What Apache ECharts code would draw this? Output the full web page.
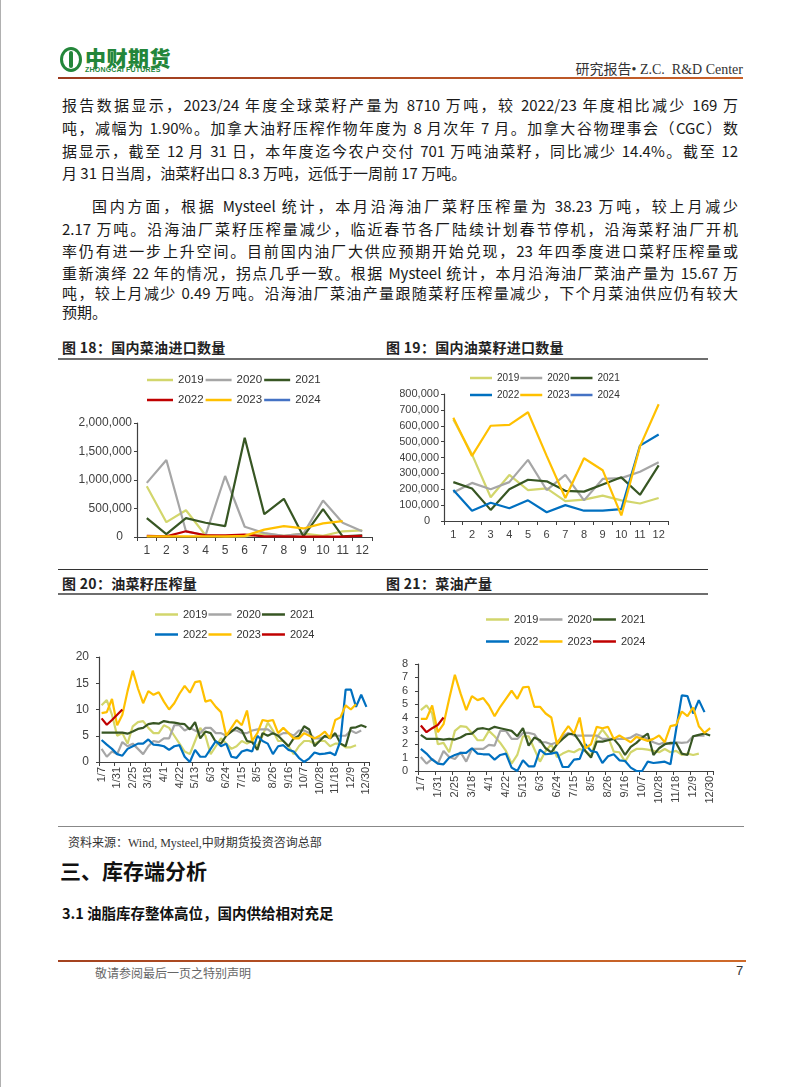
<!DOCTYPE html>
<html lang="zh-CN">
<head>
<meta charset="utf-8">
<script src="https://cdn.jsdelivr.net/npm/echarts@6/dist/echarts.min.js"></script>
<style>
html,body{margin:0;padding:0;background:#fff;}
body{width:802px;height:1087px;position:relative;overflow:hidden;font-family:"Noto Sans CJK SC",sans-serif;color:#222;}
.abs{position:absolute;white-space:nowrap;}
.ln{position:absolute;left:62px;width:676px;font-size:15px;line-height:20px;height:20px;text-align:justify;text-align-last:justify;text-justify:inter-character;font-family:"Liberation Sans Narrow","Noto Sans CJK SC",sans-serif;color:#1a1a1a;}
.ln.nj{text-align-last:left;}
.hr{position:absolute;}
.ctitle{position:absolute;font-size:14px;font-weight:700;color:#222;white-space:nowrap;letter-spacing:0.3px;}
.chart{position:absolute;}
</style>
</head>
<body>
<div class="hr" style="left:0;top:0;width:1px;height:1087px;background:#b0b0b0"></div>

<!-- header -->
<div class="abs" style="left:60px;top:47px;width:16px;height:19px;border:3px solid #23863a;border-radius:50%;"></div>
<div class="abs" style="left:69px;top:51px;width:4px;height:17px;background:#23863a;border-radius:2px"></div>
<div class="abs" style="left:85px;top:42px;font-size:21px;font-weight:900;color:#23863a;letter-spacing:0.5px">中财期货</div>
<div class="abs" style="left:85px;top:66px;font-size:7px;font-weight:700;color:#23863a;font-family:'Liberation Sans',sans-serif;letter-spacing:0.2px">ZHONGCAI FUTURES</div>
<div class="abs" style="right:59px;top:58px;font-size:14px;color:#333;font-family:'Liberation Serif','Noto Sans CJK SC',serif">研究报告• Z.C.&nbsp; R&amp;D Center</div>
<div class="hr" style="left:58px;top:77px;width:685px;height:2px;background:linear-gradient(to right,#9c3a1e,#c8622a)"></div>

<!-- body text -->
<div class="ln" style="top:95px">报告数据显示，2023/24 年度全球菜籽产量为 8710 万吨，较 2022/23 年度相比减少 169 万</div>
<div class="ln" style="top:118px">吨，减幅为 1.90%。加拿大油籽压榨作物年度为 8 月次年 7 月。加拿大谷物理事会（CGC）数</div>
<div class="ln" style="top:141px">据显示，截至 12 月 31 日，本年度迄今农户交付 701 万吨油菜籽，同比减少 14.4%。截至 12</div>
<div class="ln nj" style="top:163px">月 31 日当周，油菜籽出口 8.3 万吨，远低于一周前 17 万吨。</div>
<div class="ln" style="top:196px;left:92px;width:646px">国内方面，根据 Mysteel 统计，本月沿海油厂菜籽压榨量为 38.23 万吨，较上月减少</div>
<div class="ln" style="top:219px">2.17 万吨。沿海油厂菜籽压榨量减少，临近春节各厂陆续计划春节停机，沿海菜籽油厂开机</div>
<div class="ln" style="top:241px">率仍有进一步上升空间。目前国内油厂大供应预期开始兑现，23 年四季度进口菜籽压榨量或</div>
<div class="ln" style="top:263px">重新演绎 22 年的情况，拐点几乎一致。根据 Mysteel 统计，本月沿海油厂菜油产量为 15.67 万</div>
<div class="ln" style="top:283px">吨，较上月减少 0.49 万吨。沿海油厂菜油产量跟随菜籽压榨量减少，下个月菜油供应仍有较大</div>
<div class="ln nj" style="top:302px">预期。</div>

<!-- chart titles and rules -->
<div class="ctitle" style="left:62px;top:337px">图 18：国内菜油进口数量</div>
<div class="ctitle" style="left:386px;top:337px">图 19：国内油菜籽进口数量</div>
<div class="hr" style="left:58px;top:358px;width:650px;height:2px;background:#6e6e6e"></div>

<div class="hr" style="left:58px;top:569px;width:650px;height:1px;background:#333"></div>
<div class="ctitle" style="left:62px;top:573px">图 20：油菜籽压榨量</div>
<div class="ctitle" style="left:386px;top:573px">图 21：菜油产量</div>
<div class="hr" style="left:58px;top:593px;width:650px;height:2px;background:#6e6e6e"></div>

<div id="c18" class="chart" style="left:60px;top:362px;width:340px;height:205px"></div>
<div id="c19" class="chart" style="left:400px;top:362px;width:340px;height:205px"></div>
<div id="c20" class="chart" style="left:60px;top:597px;width:340px;height:228px"></div>
<div id="c21" class="chart" style="left:400px;top:597px;width:340px;height:228px"></div>

<div class="hr" style="left:58px;top:826px;width:686px;height:1px;background:#888"></div>
<div class="abs" style="left:68px;top:833px;font-size:12px;color:#333;font-family:'Liberation Serif','Noto Sans CJK SC',serif">资料来源：Wind, Mysteel,中财期货投资咨询总部</div>

<div class="abs" style="left:60px;top:855px;font-size:21px;font-weight:700;color:#111">三、库存端分析</div>
<div class="abs" style="left:62px;top:902px;font-size:14.5px;font-weight:700;color:#111">3.1 油脂库存整体高位，国内供给相对充足</div>

<div class="hr" style="left:58px;top:960px;width:688px;height:2px;background:linear-gradient(to right,#a4421f,#cf6a2a)"></div>
<div class="abs" style="left:95px;top:964px;font-size:12px;color:#666">敬请参阅最后一页之特别声明</div>
<div class="abs" style="left:736px;top:963px;font-size:13px;color:#333;font-family:'Liberation Sans',sans-serif">7</div>

<script>
// ---------- data ----------
const months = ['1','2','3','4','5','6','7','8','9','10','11','12'];
const weeks = ['1/7','1/14','1/21','1/31','2/11','2/18','2/25','3/4','3/11','3/18','3/22','3/27','4/1','4/8','4/15','4/22','4/29','5/6','5/13','5/20','5/27','6/3','6/10','6/17','6/24','7/1','7/8','7/15','7/22','7/29','8/5','8/12','8/19','8/26','9/2','9/9','9/16','9/23','9/30','10/7','10/14','10/21','10/28','11/4','11/11','11/18','11/25','12/2','12/9','12/16','12/23','12/30'];
const years = ['2019','2020','2021','2022','2023','2024'];

// 图18 国内菜油进口数量 (吨)
const oilImp2019 = [890000,260000,470000,30000,10000,10000,60000,20000,60000,20000,100000,115000];
const oilImp2020 = [950000,1350000,100000,30000,1070000,180000,70000,20000,60000,640000,250000,100000];
const oilImp2021 = [330000,50000,330000,250000,190000,1740000,400000,670000,10000,490000,10000,30000];
const oilImp2022 = [20000,10000,100000,30000,30000,40000,10000,10000,5000,5000,5000,20000];
const oilImp2023 = [10000,10000,10000,10000,10000,20000,130000,190000,150000,240000,280000,null];
const oilImp2024 = [];

// 图19 国内油菜籽进口数量 (吨)
const seedImp2019 = [640000,420000,150000,290000,195000,205000,125000,135000,160000,130000,110000,145000];
const seedImp2020 = [180000,240000,200000,245000,385000,195000,290000,130000,265000,270000,310000,370000];
const seedImp2021 = [245000,205000,70000,200000,260000,250000,190000,185000,230000,275000,165000,350000];
const seedImp2022 = [195000,65000,115000,80000,130000,55000,100000,65000,65000,75000,475000,545000];
const seedImp2023 = [650000,410000,600000,605000,685000,410000,145000,395000,320000,35000,470000,735000];
const seedImp2024 = [];

// 图20 油菜籽压榨量 (万吨)
const crush2019 = [10.8,11.8,9.0,5.0,5.5,3.5,6.8,7.6,7.8,6.5, 5.5,5.5,7.0,6.5,5.0,3.5,2.0,1.5,4.0,6.5, 5.0,1.5,3.0,4.5,3.5,2.5,3.0,4.0,3.5,4.0, 3.0,5.0,7.5,6.0,4.0,4.0,3.0,1.5,3.0,4.0, 4.0,3.5,4.0,4.0,3.0,3.5,3.5,2.8,2.8,3.2, null,null];
const crush2020 = [2.5,1.0,2.0,1.5,3.8,3.0,3.5,2.5,1.5,3.0, 4.0,3.8,4.5,4.5,7.0,7.0,6.0,6.5,6.0,5.5, 6.5,6.5,5.5,5.5,5.0,6.0,6.0,5.5,5.5,6.0, 6.2,6.2,6.2,5.5,5.0,5.5,5.5,5.0,6.0,6.0, 5.5,4.5,4.5,4.8,5.0,5.0,5.0,5.0,6.0,5.5, 6.0,null];
const crush2021 = [5.6,5.6,5.6,5.6,5.6,5.4,5.8,6.3,6.5,7.2, 7.4,7.3,7.8,7.6,7.5,7.3,7.2,6.2,7.6,4.5, 5.8,5.5,3.8,3.5,5.0,5.8,6.6,6.0,4.0,3.8, 2.3,5.5,5.0,5.5,5.0,4.0,3.0,4.5,5.0,6.8, 6.2,3.0,4.0,5.0,4.5,5.5,3.5,3.0,6.5,6.6, 7.0,6.6];
const crush2022 = [4.2,3.3,2.5,1.5,1.2,2.5,3.0,3.5,3.5,4.3, 3.3,3.2,3.0,2.3,3.0,3.2,1.0,0.0,2.3,1.0, 1.0,2.5,4.0,3.0,3.5,1.0,0.8,2.0,2.3,2.0, 5.0,4.0,3.5,1.5,3.0,3.2,2.3,2.0,0.8,0.0, 0.7,1.8,1.5,1.6,1.8,1.3,4.0,13.8,13.8,10.5, 12.8,10.5];
const crush2023 = [9.3,9.5,12.0,7.0,9.0,13.5,17.4,14.0,11.2,13.5, 12.8,13.3,11.5,10.0,11.2,13.0,14.5,13.2,15.2,15.4, 11.5,11.8,10.5,9.5,5.0,6.5,8.0,7.0,9.8,4.0, 5.5,8.0,7.8,8.0,5.5,6.5,5.5,4.5,4.5,5.5, 5.0,4.5,5.0,5.8,4.5,8.0,8.5,10.8,10.0,11.0, null,null];
const crush2024 = [8.3,7.1,8.0,9.0,10.0];

// 图21 菜油产量 (万吨)
const oilOut2019 = [4.55,4.9,4.3,2.0,2.1,1.4,3.0,3.35,3.3,2.85, 2.3,2.3,3.0,2.6,2.1,1.5,0.55,1.2,2.6,2.6, 1.65,0.7,1.5,2.0,1.05,1.3,1.5,1.4,1.65,1.5, 1.15,2.5,3.1,2.55,1.45,1.4,0.7,1.4,1.65,1.65, 1.6,1.5,1.4,1.65,1.4,1.5,1.2,1.3,1.2,1.3, null,null];
const oilOut2020 = [1.05,0.55,0.9,0.55,1.5,1.05,0.9,1.4,0.7,1.65, 1.65,1.65,1.95,1.9,3.0,3.0,2.4,2.4,2.85,2.85, 2.75,2.15,2.15,2.0,2.15,2.6,2.85,2.65,2.65,2.65, 2.65,2.65,2.4,2.4,2.4,2.4,2.4,2.5,2.75,2.6, 2.4,2.15,2.0,2.15,2.0,2.15,2.1,2.15,2.6,2.65, 2.65,null];
const oilOut2021 = [2.7,2.4,2.4,2.4,2.35,2.4,2.35,2.5,2.75,2.8, 3.15,3.2,3.1,3.3,3.2,3.1,3.0,2.6,3.2,1.9, 2.5,2.3,1.7,1.4,2.0,2.4,2.75,2.8,2.2,1.5, 1.0,2.2,2.2,2.3,2.4,1.9,1.2,1.8,2.1,2.5, 2.8,1.2,1.7,2.0,2.1,2.1,1.3,1.2,2.6,2.7, 2.8,2.65];
const oilOut2022 = [1.65,1.3,0.85,0.55,0.5,1.0,1.2,1.35,1.35,1.7, 1.3,1.25,1.25,0.85,1.2,1.3,0.25,0.0,0.8,0.35, 0.35,1.6,1.25,1.3,1.4,0.3,0.3,0.85,0.9,2.0, 1.5,1.4,0.6,1.1,1.25,0.8,0.75,0.25,0.0,0.0, 0.7,0.6,0.65,0.7,0.5,3.1,5.65,5.6,4.3,5.3, 4.4,null];
const oilOut2023 = [3.9,3.9,4.9,2.9,3.5,5.4,7.2,5.8,4.55,5.6, 5.3,5.45,4.9,4.1,4.8,5.4,6.0,5.4,6.25,6.3, 4.8,4.8,4.3,4.0,2.0,2.75,3.35,2.8,4.0,1.7, 2.0,3.3,3.2,3.3,2.4,2.65,2.4,2.15,2.55,2.4, 2.25,2.4,2.65,2.15,3.35,3.45,4.45,4.1,4.75,3.35, 2.85,3.2];
const oilOut2024 = [3.4,2.9,3.2,3.45,4.0];

// ---------- helpers ----------
const C19 = '#D2D66C', C20 = '#A6A6A6', C21 = '#375623', CBLUE = '#0070C0', CRED = '#C00000', C23 = '#FFC000', CBLUE2 = '#4472C4';
const AX = '#404040', LBL = '#404040', FONT = 'Liberation Sans';

function series(name, data, color){
  return {name:name, type:'line', data:data, symbol:'none', showSymbol:false, connectNulls:false,
          lineStyle:{width:2.2, color:color}, itemStyle:{color:color}, emphasis:{disabled:true}};
}
function thousands(v){ return String(v).replace(/\B(?=(\d{3})+(?!\d))/g, ','); }

function legends(left, top1, top2, itemWidth, gap, fs){
  const base = {icon:'rect', itemWidth:itemWidth, itemHeight:2.5, itemGap:gap, left:left, orient:'horizontal',
    textStyle:{fontSize:fs, color:'#333', fontFamily:FONT}, selectedMode:false, padding:0};
  return [Object.assign({}, base, {top:top1, data:years.slice(0,3)}),
          Object.assign({}, base, {top:top2, data:years.slice(3)})];
}

function build(id, opt){
  const ch = echarts.init(document.getElementById(id), null, {renderer:'canvas'});
  ch.setOption(opt);
}

// 图18
build('c18', {
  animation:false,
  legend: legends(87, 12, 32, 26, 2, 11.5),
  grid:{left:77, top:61, width:235, height:114, containLabel:false, outerBoundsMode:'none'},
  xAxis:{type:'category', data:months, boundaryGap:true,
    axisLine:{lineStyle:{color:AX, width:1.2}}, axisTick:{show:true, length:4, lineStyle:{color:AX}},
    axisLabel:{fontSize:12, color:LBL, fontFamily:FONT, margin:8}},
  yAxis:{type:'value', min:0, max:2000000, interval:500000, splitLine:{show:false},
    axisLine:{show:true, lineStyle:{color:AX, width:1.2}}, axisTick:{show:true, length:3, lineStyle:{color:AX}},
    axisLabel:{fontSize:12, color:LBL, fontFamily:FONT, margin:5,
      formatter:function(v){ return v===0 ? '{z|0}' : thousands(v); },
      rich:{z:{fontSize:12, color:LBL, fontFamily:FONT, padding:[0,9,0,0]}}}},
  series:[series('2019',oilImp2019,C19), series('2020',oilImp2020,C20), series('2021',oilImp2021,C21),
          series('2022',oilImp2022,CRED), series('2023',oilImp2023,C23), series('2024',oilImp2024,CBLUE2)]
});

// 图19
build('c19', {
  animation:false,
  legend: legends(70, 11, 28, 22, 1, 10),
  grid:{left:44, top:32, width:224, height:127, containLabel:false, outerBoundsMode:'none'},
  xAxis:{type:'category', data:months, boundaryGap:true,
    axisLine:{lineStyle:{color:AX, width:1.2}}, axisTick:{show:true, length:4, lineStyle:{color:AX}},
    axisLabel:{fontSize:11, color:LBL, fontFamily:FONT, margin:8}},
  yAxis:{type:'value', min:0, max:800000, interval:100000, splitLine:{show:false},
    axisLine:{show:true, lineStyle:{color:AX, width:1.2}}, axisTick:{show:true, length:3, lineStyle:{color:AX}},
    axisLabel:{fontSize:11, color:LBL, fontFamily:FONT, margin:5,
      formatter:function(v){ return v===0 ? '{z|0}' : thousands(v); },
      rich:{z:{fontSize:11, color:LBL, fontFamily:FONT, padding:[0,9,0,0]}}}},
  series:[series('2019',seedImp2019,C19), series('2020',seedImp2020,C20), series('2021',seedImp2021,C21),
          series('2022',seedImp2022,CBLUE), series('2023',seedImp2023,C23), series('2024',seedImp2024,CBLUE2)]
});

function weeklyOpt(legLeft, t1, t2, grid, max, interval, data, yfs){
  return {
    animation:false,
    legend: legends(legLeft, t1, t2, 23, 1, 11),
    grid:Object.assign({containLabel:false, outerBoundsMode:'none'}, grid),
    xAxis:{type:'category', data:weeks, boundaryGap:true,
      axisLine:{lineStyle:{color:AX, width:1.2}},
      axisTick:{show:true, length:4, interval:2, lineStyle:{color:AX}},
      axisLabel:{fontSize:11, color:LBL, fontFamily:FONT, rotate:90, interval:2, margin:5}},
    yAxis:{type:'value', min:0, max:max, interval:interval, splitLine:{show:false},
      axisLine:{show:true, lineStyle:{color:AX, width:1.2}}, axisTick:{show:true, length:3, lineStyle:{color:AX}},
      axisLabel:{fontSize:yfs, color:LBL, fontFamily:FONT, margin:10}},
    series:[series('2019',data[0],C19), series('2020',data[1],C20), series('2021',data[2],C21),
            series('2022',data[3],CBLUE), series('2023',data[4],C23), series('2024',data[5],CRED)]
  };
}

// 图20
build('c20', weeklyOpt(95, 12, 32, {left:39, top:60, width:270, height:105}, 20, 5,
  [crush2019, crush2020, crush2021, crush2022, crush2023, crush2024], 12));

// 图21
build('c21', weeklyOpt(86, 17, 39, {left:18, top:67, width:295, height:107}, 8, 1,
  [oilOut2019, oilOut2020, oilOut2021, oilOut2022, oilOut2023, oilOut2024], 11));
</script>
</body>
</html>
